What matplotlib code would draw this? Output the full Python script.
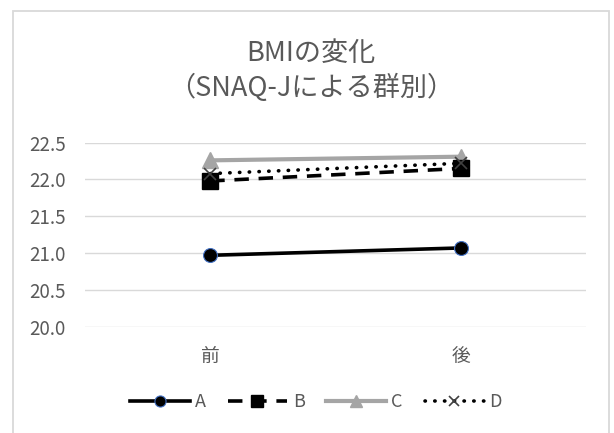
import matplotlib
matplotlib.use("Agg")
import matplotlib.pyplot as plt
from matplotlib.patches import Rectangle

plt.rcParams['font.family'] = ['Noto Sans CJK JP', 'DejaVu Sans']

# BMI before / after, by SNAQ-J group
periods = ["前", "後"]
series_names = ["A", "B", "C", "D"]
bmi_A = [20.97, 21.07]
bmi_B = [21.98, 22.15]
bmi_C = [22.26, 22.31]
bmi_D = [22.08, 22.22]
y_ticks = [20.0, 20.5, 21.0, 21.5, 22.0, 22.5]
title = "BMIの変化\n（SNAQ-Jによる群別）"

W, H = 614, 433
fig = plt.figure(figsize=(W / 100, H / 100), dpi=100)
fig.patch.set_facecolor("white")

# chart frame
fig.add_artist(Rectangle((13 / W, -0.05), (609 - 13) / W, (H - 11) / H + 0.05,
                         transform=fig.transFigure, fill=False,
                         ec="#D9D9D9", lw=1.3))

x0, x1, ytop, ybot = 85, 586, 142.7, 326.7
ax = fig.add_axes([x0 / W, 1 - ybot / H, (x1 - x0) / W, (ybot - ytop) / H])

xs = list(range(len(periods)))
lw = 2.6
ax.plot(xs, bmi_A, color="black", lw=lw, marker="o", ms=10,
        mfc="black", mec="#4472C4", mew=0.8, label=series_names[0], zorder=3)
ax.plot(xs, bmi_B, color="black", lw=lw, linestyle=(0, (4, 2.7)), marker="s", ms=11,
        mfc="black", mec="black", label=series_names[1], zorder=3)
ax.plot(xs, bmi_C, color="#A5A5A5", lw=lw + 0.4, marker="^", ms=11,
        mfc="#A5A5A5", mec="#A5A5A5", label=series_names[2], zorder=2)
ax.plot(xs, bmi_D, color="black", lw=lw, linestyle=(0, (0.1, 2.6)),
        dash_capstyle="round", marker="x", ms=9, mec="#404040", mew=1.2,
        label=series_names[3], zorder=4)

ax.set_ylim(20.0, 22.5)
ax.set_xlim(-0.5, len(periods) - 0.5)
ax.set_yticks(y_ticks)
ax.set_yticklabels([f"{v:.1f}" for v in y_ticks])
ax.set_xticks(xs)
ax.set_xticklabels(periods)
ax.grid(axis="y", color="#D9D9D9", lw=1)
ax.set_axisbelow(True)
for s in ax.spines.values():
    s.set_visible(False)
ax.tick_params(axis="both", length=0, colors="#595959", labelsize=13.5)
ax.tick_params(axis="y", pad=14)
ax.tick_params(axis="x", pad=14)
ax.set_facecolor("none")

fig.text(311 / W, 1 - 71 / H, title, ha="center", va="center",
         fontsize=19.5, color="#595959", linespacing=1.35)

fig.legend(loc="center", bbox_to_anchor=(316 / W, 1 - 402 / H), ncol=4,
           frameon=False, fontsize=13, labelcolor="#595959", markerscale=0.8,
           handlelength=3.3, handletextpad=0.3, columnspacing=1.2)

fig.savefig("out.png", dpi=100)
